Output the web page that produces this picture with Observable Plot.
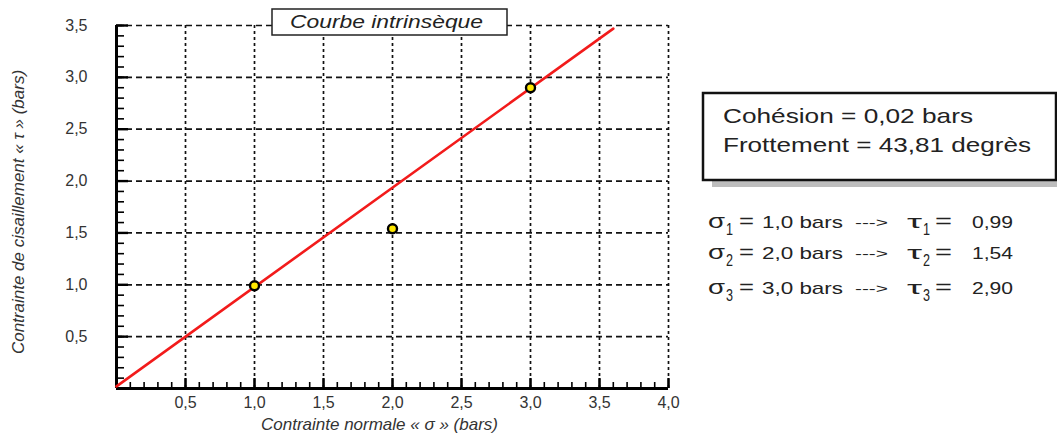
<!DOCTYPE html>
<html>
<head>
<meta charset="utf-8">
<script src="https://cdn.jsdelivr.net/npm/d3@7"></script>
<script src="https://cdn.jsdelivr.net/npm/@observablehq/plot@0.6"></script>
<style>
  html, body { margin: 0; padding: 0; background: #fff; }
  #chart { position: relative; width: 1057px; height: 434px; }
</style>
</head>
<body>
<div id="chart"></div>
<script>
// ---- data ----
const sigma = [1.0, 2.0, 3.0];            // contrainte normale (bars)
const tau = [0.99, 1.54, 2.90];           // contrainte de cisaillement (bars)
const envelopeX = [0, 3.6];               // courbe intrinsèque (ends)
const envelopeY = [0.02, 3.47];
const xTicks = [0.5, 1.0, 1.5, 2.0, 2.5, 3.0, 3.5, 4.0];
const yTicks = [0.5, 1.0, 1.5, 2.0, 2.5, 3.0, 3.5];
const minorXTicks = d3.range(1, 41).map(i => i / 10);
const minorYTicks = d3.range(1, 36).map(i => i / 10);
const title = "Courbe intrinsèque";
const xLabel = "Contrainte normale « σ » (bars)";
const yLabel = "Contrainte de cisaillement « τ » (bars)";
const infoLines = ["Cohésion = 0,02 bars", "Frottement = 43,81 degrès"];
const resultSigmaText = ["1,0 bars", "2,0 bars", "3,0 bars"];
const resultTauText = ["0,99", "1,54", "2,90"];

const fmt = d => d.toFixed(1).replace(".", ",");
const points = sigma.map((s, i) => ({s, t: tau[i]}));
const envelope = envelopeX.map((x, i) => ({x, y: envelopeY[i]}));
const FONT = "'Liberation Sans', Arial, sans-serif";

const W = 1057, H = 434, ML = 116, MR = 389, MT = 25, MB = 46;
const FW = W - ML - MR, FH = H - MT - MB;
const XMAX = 4, YMAX = 3.5;
// tick lengths in pixels converted to data units along the other axis
const px2y = p => p * YMAX / FH, px2x = p => p * XMAX / FW;

const plot = Plot.plot({
  width: W,
  height: H,
  marginLeft: ML,
  marginRight: MR,
  marginTop: MT,
  marginBottom: MB,
  style: {fontFamily: FONT, background: "#fff", overflow: "visible"},
  x: {domain: [0, XMAX], axis: null},
  y: {domain: [0, YMAX], axis: null},
  marks: [
    Plot.ruleX(xTicks, {stroke: "#111", strokeWidth: 1.7, strokeDasharray: "3,3"}),
    Plot.ruleY(yTicks, {stroke: "#111", strokeWidth: 1.7, strokeDasharray: "6,4"}),
    // minor ticks (inward)
    Plot.ruleX(minorXTicks, {x: d => d, y1: 0, y2: px2y(6), stroke: "#000", strokeWidth: 1.6}),
    Plot.ruleY(minorYTicks, {y: d => d, x1: 0, x2: px2x(8), stroke: "#000", strokeWidth: 1.6}),
    // major ticks (inward)
    Plot.ruleX(xTicks, {x: d => d, y1: 0, y2: px2y(10), stroke: "#000", strokeWidth: 2.4}),
    Plot.ruleY(yTicks, {y: d => d, x1: 0, x2: px2x(12), stroke: "#000", strokeWidth: 2.4}),
    // tick labels
    Plot.axisX({ticks: xTicks, tickSize: 0, tickPadding: 8, tickFormat: fmt, fontSize: 16, fill: "#333", label: null, ariaLabel: "xlab"}),
    Plot.axisY({ticks: yTicks, tickSize: 0, tickPadding: 29, tickFormat: fmt, fontSize: 16, fill: "#333", label: null, ariaLabel: "ylab"}),
    // axis lines
    Plot.ruleY([0], {stroke: "#000", strokeWidth: 3}),
    Plot.ruleX([0], {stroke: "#000", strokeWidth: 3}),
    // axis titles
    Plot.text([xLabel], {frameAnchor: "bottom", text: d => d, dy: 41, dx: -13, fontSize: 17, fontStyle: "italic", fill: "#333", ariaLabel: "xtitle"}),
    Plot.text([yLabel], {frameAnchor: "left", textAnchor: "middle", text: d => d, rotate: -90, dx: -98, dy: 5, fontSize: 17, fontStyle: "italic", fill: "#333", ariaLabel: "ytitle"}),
    // envelope
    Plot.line(envelope, {x: "x", y: "y", stroke: "#f21b1b", strokeWidth: 2.6}),
    // measured points
    Plot.dot(points, {x: "s", y: "t", r: 4.5, fill: "#ffe800", stroke: "#000", strokeWidth: 2.4})
  ]
});

document.getElementById("chart").appendChild(plot);

const svg = d3.select(plot);
// horizontally stretched lettering, as in the reference
svg.selectAll("g[aria-label='xlab'] text").attr("textLength", 25).attr("lengthAdjust", "spacingAndGlyphs");
svg.selectAll("g[aria-label='ylab'] text").attr("textLength", 27).attr("lengthAdjust", "spacingAndGlyphs");
svg.selectAll("g[aria-label='xtitle'] text").attr("textLength", 293).attr("lengthAdjust", "spacingAndGlyphs");
svg.selectAll("g[aria-label='ytitle'] text").attr("textLength", 272).attr("lengthAdjust", "spacingAndGlyphs");

const g = svg.append("g").attr("font-family", FONT).attr("text-anchor", "start");
const stretched = (sel, w) => sel.attr("textLength", w).attr("lengthAdjust", "spacingAndGlyphs");

// title box
g.append("rect").attr("x", 272).attr("y", 9).attr("width", 235).attr("height", 26)
  .attr("fill", "#fff").attr("stroke", "#222").attr("stroke-width", 1.5);
stretched(g.append("text").attr("x", 290).attr("y", 28)
  .attr("font-size", 18).attr("font-style", "italic").attr("fill", "#222").text(title), 193);

// info box with shadow
g.append("rect").attr("x", 712).attr("y", 100).attr("width", 360).attr("height", 87).attr("fill", "#bdbdbd");
g.append("rect").attr("x", 703).attr("y", 93).attr("width", 353).attr("height", 87)
  .attr("fill", "#fff").attr("stroke", "#111").attr("stroke-width", 2.5);
const infoW = [250, 308];
infoLines.forEach((t, i) => {
  stretched(g.append("text").attr("x", 723).attr("y", 123 + i * 29).attr("font-size", 21)
    .attr("fill", "#222").text(t), infoW[i]);
});

// results
const baseY = [228, 259, 294];
resultSigmaText.forEach((t, i) => {
  const y = baseY[i];
  const row = g.append("g").attr("fill", "#222");
  stretched(row.append("text").attr("x", 708).attr("y", y).attr("font-size", 20).text("σ"), 17);
  stretched(row.append("text").attr("x", 726).attr("y", y + 7).attr("font-size", 16).text(String(i + 1)), 7);
  stretched(row.append("text").attr("x", 739).attr("y", y).attr("font-size", 20).text("="), 15);
  stretched(row.append("text").attr("x", 762).attr("y", y).attr("font-size", 17).text(t), 81);
  stretched(row.append("text").attr("x", 855).attr("y", y - 1).attr("font-size", 13).text("--->"), 33);
  stretched(row.append("text").attr("x", 907).attr("y", y).attr("font-size", 19).text("τ"), 15);
  stretched(row.append("text").attr("x", 923).attr("y", y + 7).attr("font-size", 16).text(String(i + 1)), 7);
  stretched(row.append("text").attr("x", 935).attr("y", y).attr("font-size", 20).text("="), 17);
  stretched(row.append("text").attr("x", 972).attr("y", y).attr("font-size", 17).text(resultTauText[i]), 41);
});
</script>
</body>
</html>
